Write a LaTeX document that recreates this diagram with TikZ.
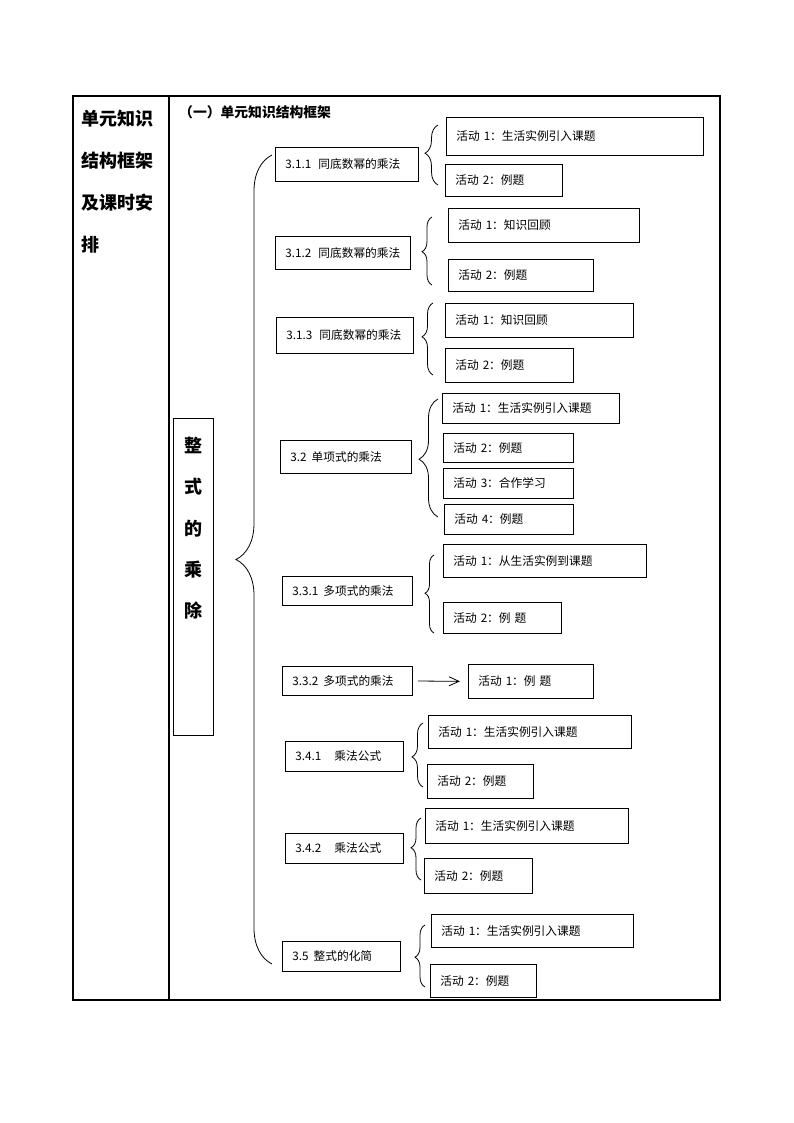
\documentclass[tikz,border=0pt]{standalone}
\usepackage{fontspec}
\setmainfont{Noto Sans CJK SC}
\usetikzlibrary{decorations.pathreplacing,arrows.meta}

\tikzset{
  lesson/.style 2 args={draw, line width=0.9pt, anchor=north west, inner xsep=10pt, inner ysep=0pt,
    minimum width=#1pt, minimum height=#2pt, text width=#1pt-20pt,
    font=\fontsize{11.7pt}{14pt}\selectfont},
  curly/.style 2 args={decorate, decoration={brace, amplitude=#1pt, aspect=#2}, line width=0.8pt},
}

\begin{document}
\begin{tikzpicture}[x=1pt,y=-1pt]
	\useasboundingbox (0,0) rectangle (794,1123);
	% table frame
	\draw[line width=1.2pt] (73,96) rectangle (720,1000);
	\draw[line width=1.2pt] (169,96) -- (169,1000);
	\node (head) [anchor=north west, inner sep=0pt, align=left, font=\fontsize{18pt}{42pt}\selectfont\bfseries] at (81,110) {单元知识\\结构框架\\及课时安\\排};
	\node (title) [anchor=west, inner sep=0pt, font=\fontsize{13.8pt}{16pt}\selectfont\bfseries] at (179,112) {（一）单元知识结构框架};
	% unit
	\node (theme) [draw, line width=0.9pt, anchor=north west, minimum width=40pt, minimum height=317pt, inner sep=0pt] at (173,418) {};
	\node (themetext) [anchor=north, inner sep=0pt, align=center, font=\fontsize{18pt}{41.3pt}\selectfont\bfseries] at (193,437) {整\\式\\的\\乘\\除};
	\draw[curly={36}{0.5}] (272,964) -- (272,155);
	% 3.1.1
	\node (s311) [lesson={143}{34}] at (275,147) {3.1.1\hspace{7pt}同底数幂的乘法};
	\node (s311a) [lesson={257}{38}] at (446,117) {活动 1：生活实例引入课题};
	\node (s311b) [lesson={117}{32}] at (445,164) {活动 2：例题};
	\draw[curly={13}{0.53}] (438,185) -- (438,125);
	% 3.1.2
	\node (s312) [lesson={135}{33}] at (275,236) {3.1.2\hspace{7pt}同底数幂的乘法};
	\node (s312a) [lesson={191}{34}] at (448,208) {活动 1：知识回顾};
	\node (s312b) [lesson={145}{32}] at (448,259) {活动 2：例题};
	\draw[curly={10}{0.49}] (432,285) -- (432,217);
	% 3.1.3
	\node (s313) [lesson={137}{36}] at (276,317) {3.1.3\hspace{7pt}同底数幂的乘法};
	\node (s313a) [lesson={188}{34}] at (445,303) {活动 1：知识回顾};
	\node (s313b) [lesson={128}{34}] at (445,348) {活动 2：例题};
	\draw[curly={11}{0.53}] (433,375) -- (433,303);
	% 3.2
	\node (s32) [lesson={131}{33}] at (280,440) {3.2\hspace{5pt}单项式的乘法};
	\node (s32a) [lesson={177}{30}] at (442,393) {活动 1：生活实例引入课题};
	\node (s32b) [lesson={130}{29}] at (443,433) {活动 2：例题};
	\node (s32c) [lesson={130}{30}] at (443,468) {活动 3：合作学习};
	\node (s32d) [lesson={129}{30}] at (444,504) {活动 4：例题};
	\draw[curly={19}{0.49}] (438,517) -- (438,399);
	% 3.3.1
	\node (s331) [lesson={130}{29}] at (282,576) {3.3.1\hspace{5pt}多项式的乘法};
	\node (s331a) [lesson={203}{33}] at (443,544) {活动 1：从生活实例到课题};
	\node (s331b) [lesson={118}{31}] at (443,602) {活动 2：例\hspace{4pt}题};
	\draw[curly={9}{0.51}] (434,633) -- (434,555);
	% 3.3.2
	\node (s332) [lesson={130}{29}] at (282,666) {3.3.2\hspace{5pt}多项式的乘法};
	\node (s332a) [lesson={125}{34}] at (468,664) {活动 1：例\hspace{4pt}题};
	\draw[-{Straight Barb[length=10pt,width=9pt]}, line width=0.8pt, shorten <=5pt, shorten >=8pt] (s332.east) -- (s332a.west);
	% 3.4.1
	\node (s341) [lesson={118}{30}] at (285,741) {3.4.1\hspace{13pt}乘法公式};
	\node (s341a) [lesson={203}{33}] at (428,715) {活动 1：生活实例引入课题};
	\node (s341b) [lesson={106}{34}] at (427,764) {活动 2：例题};
	\draw[curly={11}{0.47}] (423,787) -- (423,723);
	% 3.4.2
	\node (s342) [lesson={118}{30}] at (285,833) {3.4.2\hspace{13pt}乘法公式};
	\node (s342a) [lesson={203}{35}] at (425,808) {活动 1：生活实例引入课题};
	\node (s342b) [lesson={108}{35}] at (424,858) {活动 2：例题};
	\draw[curly={10}{0.52}] (421,880) -- (421,818);
	% 3.5
	\node (s35) [lesson={118}{30}] at (282,941) {3.5\hspace{5pt}整式的化简};
	\node (s35a) [lesson={202}{33}] at (431,914) {活动 1：生活实例引入课题};
	\node (s35b) [lesson={106}{33}] at (430,964) {活动 2：例题};
	\draw[curly={10}{0.48}] (425,987) -- (425,925);
\end{tikzpicture}
\end{document}
